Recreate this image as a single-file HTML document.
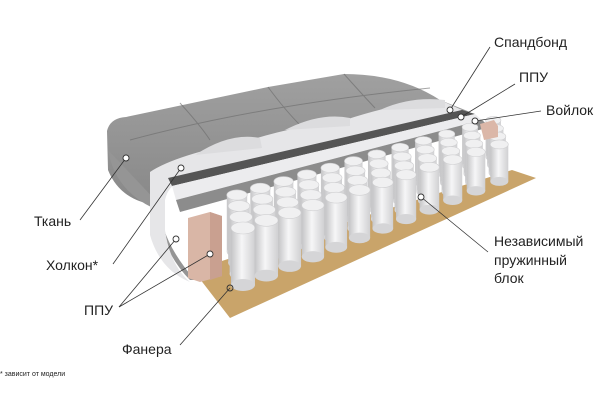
<!DOCTYPE html>
<html><head><meta charset="utf-8">
<style>
html,body{margin:0;padding:0;background:#fff;width:600px;height:410px;overflow:hidden}
svg{display:block}
text{font-family:"Liberation Sans",sans-serif;fill:#222}
</style></head><body>
<svg id="s" width="600" height="410" viewBox="0 0 600 410" xmlns="http://www.w3.org/2000/svg">
<defs>
<linearGradient id="cyl" x1="0" x2="1" y1="0" y2="0">
<stop offset="0" stop-color="#c4c4c6"/><stop offset="0.45" stop-color="#f6f6f7"/><stop offset="1" stop-color="#d0d0d2"/></linearGradient>
<linearGradient id="gr" x1="0" x2="0" y1="0" y2="1"><stop offset="0" stop-color="#a0a0a0"/><stop offset="1" stop-color="#888"/></linearGradient>
</defs>
<polygon points="193,270 230,318 536,178 512,170" fill="#c9a46a"/>
<path d="M107,131 Q110,118 126,117 L268,87 L344,74 Q400,74 440,100 L470,112 L175,182 Q160,188 155,205 Q120,200 108,170 Z" fill="url(#gr)"/>
<path d="M108,150 Q115,190 153,208 Q165,255 190,280 L195,280 Q160,240 160,205 Z" fill="#959595"/>
<g stroke="#6a6a6a" stroke-width="1" fill="none" opacity="0.6">
<path d="M180,103 Q200,125 210,140"/><path d="M268,87 Q285,110 300,125"/><path d="M344,74 Q360,92 375,108"/>
<path d="M130,140 Q260,105 430,88"/>
</g>
<path d="M150,172 Q175,155 250,140 Q300,125 345,120 Q400,102 440,100 L462,110 L180,182 Q168,186 165,200 L165,230 Q170,265 190,282 Q160,270 150,235 Z" fill="#e6e6e8"/>
<path d="M195,155 Q230,132 260,138 L262,148 Z M285,130 Q320,112 350,118 L350,126 Z M380,110 Q410,96 445,100 L445,108Z" fill="#dcdcde"/>
<polygon points="168,178 462,110 475,114 172,186" fill="#555"/>
<polygon points="172,186 475,114 482,120 176,200" fill="#ececee"/>
<polygon points="176,200 482,120 490,127 180,212" fill="#8c8c8c"/>
<g id="springs"></g>
<polygon points="188,218 210,212 222,216 222,276 200,282 188,278" fill="#d9b6a6"/>
<polygon points="210,212 222,216 222,276 210,280" fill="#c9a090"/>
<polygon points="480,124 494,120 498,126 498,137 484,140" fill="#dbb7a8"/>
<g stroke="#333" stroke-width="0.8" fill="none">
<line x1="490" y1="47" x2="450" y2="110"/>
<line x1="515" y1="84" x2="461" y2="117"/>
<line x1="541" y1="111" x2="475" y2="121"/>
<line x1="80" y1="220" x2="126" y2="158"/>
<line x1="113" y1="264" x2="181" y2="168"/>
<line x1="119" y1="307" x2="176" y2="239"/>
<line x1="119" y1="307" x2="210" y2="254"/>
<line x1="180" y1="345" x2="230" y2="288"/>
<line x1="488" y1="252" x2="421" y2="197"/>
</g>
<g stroke="#333" stroke-width="0.9" fill="#fff">
<circle cx="450" cy="110" r="3"/><circle cx="461" cy="117" r="3"/><circle cx="475" cy="121" r="3"/>
<circle cx="126" cy="158" r="3"/><circle cx="181" cy="168" r="3"/><circle cx="176" cy="239" r="3"/>
<circle cx="210" cy="254" r="3"/><circle cx="230" cy="288" r="3" fill="none"/><circle cx="421" cy="197" r="3"/>
</g>
<g font-size="14">
<text x="494" y="47">Спандбонд</text>
<text x="519" y="82">ППУ</text>
<text x="546" y="115">Войлок</text>
<text x="34" y="226">Ткань</text>
<text x="46" y="270">Холкон*</text>
<text x="84" y="315">ППУ</text>
<text x="122" y="354">Фанера</text>
<text x="494" y="246">Независимый</text>
<text x="494" y="265">пружинный</text>
<text x="494" y="283">блок</text>
</g>
<text x="0" y="376" font-size="7">* зависит от модели</text>
</svg>
<script>
var g=document.getElementById('springs'),h='';
for(var r=3;r>=0;r--){
 for(var i=0;i<12;i++){
  var t=i/11;
  var x=243+i*23.3-r*2, y=228-i*7.6-r*11+r*t*3;
  var w=(12-t*3)*(1-r*0.05), hh=57-t*20;
  var ry=w*0.5;
  h+='<rect x="'+(x-w)+'" y="'+y+'" width="'+(2*w)+'" height="'+hh+'" fill="url(#cyl)"/>';
  h+='<ellipse cx="'+x+'" cy="'+(y+hh)+'" rx="'+w+'" ry="'+ry+'" fill="#d5d5d7"/>';
  h+='<ellipse cx="'+x+'" cy="'+y+'" rx="'+w+'" ry="'+ry+'" fill="#f0f0f1" stroke="#cfcfd1" stroke-width="0.6"/>';
 }
}
g.innerHTML=h;
</script>
</body></html>
